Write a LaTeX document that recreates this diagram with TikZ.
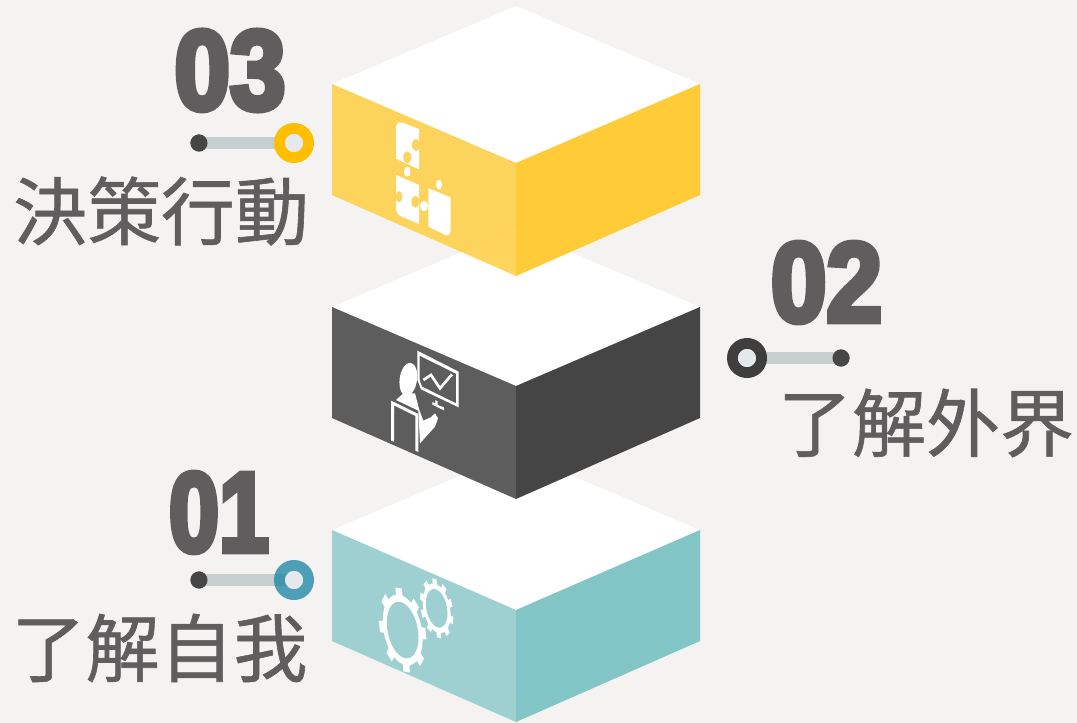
\documentclass[tikz,border=0pt]{standalone}
\usepackage{fontspec}
\newfontfamily\cjk[FakeBold=0.8]{Noto Sans CJK TC}
\newfontfamily\numfont[FakeBold=5,FakeStretch=0.88]{Liberation Sans Bold}
\definecolor{bg}{HTML}{F4F3F1}
\definecolor{txt}{HTML}{5F5D5E}
\definecolor{yel}{HTML}{FFCB36}
\definecolor{yelf}{HTML}{FCD260}
\definecolor{gryl}{HTML}{5E5D5D}
\definecolor{gryr}{HTML}{454545}
\definecolor{teall}{HTML}{9FD0D1}
\definecolor{tealr}{HTML}{81C5C6}
\definecolor{barc}{HTML}{C5CFCD}
\definecolor{dotc}{HTML}{464646}
\definecolor{ringy}{HTML}{FFBE00}
\definecolor{ringg}{HTML}{2B2B2B}
\definecolor{ringt}{HTML}{1583A1}
\definecolor{holec}{HTML}{E6E9EB}
\tikzset{
 x=0.75pt,y=-0.75pt,
 num/.style={font=\numfont\fontsize{85}{85}\selectfont,text=txt,inner sep=0pt},
 title/.style={font=\cjk\fontsize{55.5}{55.5}\selectfont,text=txt,inner sep=0pt},
 dotn/.style={circle,fill=dotc,minimum size=12.8pt,inner sep=0pt},
 holen/.style={circle,fill=holec,minimum size=13.5pt,inner sep=0pt},
 ringn/.style={circle,draw=#1,line width=8.25pt,minimum size=21.75pt,inner sep=0pt},
 barl/.style={barc,line width=9.4pt},
 zoomed/.style={x=0.25pt,y=-0.25pt},
}
\begin{document}
\begin{tikzpicture}
\useasboundingbox (0,0) rectangle (1077,723);
\fill[bg] (0,0) rectangle (1077,723);
% bottom block
\fill[white] (516,452)--(700,530)--(516,610)--(332,530)--cycle;
\fill[teall] (332,530)--(516,610)--(516,722)--(332,641)--cycle;
\fill[tealr] (516,610)--(700,530)--(700,641)--(516,722)--cycle;
% gears
\begin{scope}[shift={(360,560)},zoomed]
  \begin{scope}[shift={(230,145)},cm={0.58,-0.27,0,1,(0,0)}]
    \foreach \a in {1,...,10}{\fill[white,rotate={\a*36+8}] (-11,0) rectangle (11,86);}
    \fill[white] (0,0) circle (72);
    \fill[teall] (0,0) circle (56);
  \end{scope}
  \begin{scope}[shift={(128,210)},cm={0.58,-0.27,0,1,(0,0)}]
    \foreach \a in {1,...,8}{\fill[white,rotate={\a*45+10}] (-17,0) rectangle (17,122);}
    \fill[white] (0,0) circle (103);
    \fill[teall] (0,0) circle (82);
  \end{scope}
\end{scope}
% middle block
\fill[white] (516,229)--(700,307)--(516,386)--(332,307)--cycle;
\fill[gryl] (332,307)--(516,386)--(516,499)--(332,418)--cycle;
\fill[gryr] (516,386)--(700,307)--(700,418)--(516,499)--cycle;
% person and monitor
\begin{scope}[shift={(360,330)},zoomed]
  \fill[white,even odd rule] (172,62)--(296,125)--(296,232)--(183,178)--(172,150)--cycle
     (179,77)--(288,131)--(288,220)--(186,170)--(179,150)--cycle;
  \draw[white,line width=2pt] (190,150)--(213,135)--(240,175)--(276,133);
  \fill[white] (226,210)--(233,214)--(233,225)--(252,232)--(252,241)--(217,224)--(217,216)--(226,220)--cycle;
  \fill[white,rotate around={-8:(145,148)}] (145,148) ellipse (26 and 50);
  \fill[white] (130,190)--(165,190)--(178,240)--(190,272)--(212,262)--(225,250)--(234,265)--(225,290)--(180,340)--(175,242)--(108,210)--cycle;
  \fill[white] (93,212)--(175,252)--(175,366)--(166,362)--(166,258)--(102,226)--(102,335)--(93,332)--cycle;
\end{scope}
% top block
\fill[white] (516,6)--(700,84)--(516,163)--(332,84)--cycle;
\fill[yel] (516,163)--(700,84)--(700,195)--(516,276)--cycle;
\fill[yel,opacity=0.8] (332,84)--(516,163)--(516,276)--(332,195)--cycle;
% puzzle
\begin{scope}[shift={(330,80)},zoomed]
  \fill[white] (198,145) .. controls (198,130) and (205,125) .. (220,129)--(267,147)--(267,268)--(198,236)--cycle;
  \fill[yelf] (258,195) ellipse (12 and 18);
  \fill[yelf] (232,232) ellipse (12 and 18);
  \fill[white] (232,275) ellipse (10 and 15);
  \fill[white] (198,285)--(267,315)--(267,432)--(215,410) .. controls (203,405) and (198,395) .. (198,380)--cycle;
  \fill[yelf] (207,350) ellipse (10 and 17);
  \fill[yelf] (256,365) ellipse (12 and 18);
  \fill[white] (327,314) ellipse (9 and 15);
  \fill[white] (282,378) ellipse (12 and 16);
  \fill[white] (295,325)--(362,352)--(362,450) .. controls (362,462) and (355,468) .. (345,465)--(295,440)--cycle;
\end{scope}
% labels
\node[num] (n3) at (230,70.5) {03};
\node[num] (n2) at (826.5,282.5) {02};
\node[num] (n1) at (219,512.5) {\scalebox{0.9}[1]{01}};
\node[title] (t3) at (161,211) {決策行動};
\node[title] (t2) at (926,423) {了解外界};
\node[title] (t1) at (159.5,648) {了解自我};
% markers
\node[dotn] (d3) at (199,143) {};
\node[dotn] (d2) at (841,358) {};
\node[dotn] (d1) at (199,580) {};
\coordinate (c3) at (294,143);
\coordinate (c2) at (747,358);
\coordinate (c1) at (294,580);
\draw[barl] (d3.center)--(c3);
\draw[barl] (d2.center)--(c2);
\draw[barl] (d1.center)--(c1);
\node[dotn] at (d3) {};
\node[dotn] at (d2) {};
\node[dotn] at (d1) {};
\node[ringn=ringy] (r3) at (c3) {};
\node[ringn=ringg,draw opacity=0.9] (r2) at (c2) {};
\node[ringn=ringt,draw opacity=0.75] (r1) at (c1) {};
\node[holen] at (c3) {};
\node[holen] at (c2) {};
\node[holen] at (c1) {};
\end{tikzpicture}
\end{document}
